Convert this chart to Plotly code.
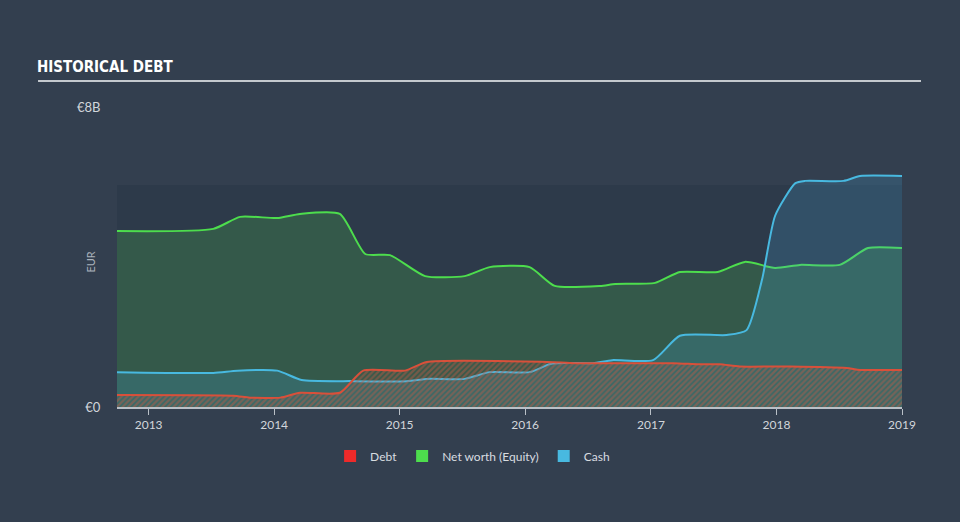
import plotly.graph_objects as go

# ---- data (values in billions of EUR) ----
equity_dates = ["2012-10-01", "2013-07-08", "2013-09-24", "2014-01-10", "2014-03-17", "2014-07-11",
                "2014-09-23", "2014-12-04", "2015-03-16", "2015-07-09", "2015-09-20", "2016-01-14",
                "2016-03-27", "2016-08-06", "2016-09-19", "2017-01-13", "2017-03-26", "2017-07-14",
                "2017-10-01", "2017-12-28", "2018-03-10", "2018-07-04", "2018-09-24", "2019-01-01"]
equity_vals = [4.69, 4.75, 5.07, 5.04, 5.15, 5.15,
               4.08, 4.05, 3.49, 3.49, 3.73, 3.73,
               3.23, 3.23, 3.28, 3.31, 3.60, 3.60,
               3.87, 3.71, 3.79, 3.79, 4.24, 4.24]

cash_dates = ["2012-10-01", "2013-07-08", "2013-09-16", "2014-01-10", "2014-03-22", "2014-08-19",
              "2015-01-22", "2015-03-21", "2015-07-09", "2015-09-20", "2016-01-14", "2016-03-19",
              "2016-07-16", "2016-09-10", "2017-01-07", "2017-03-26", "2017-08-09", "2017-10-06",
              "2017-11-20", "2017-12-28", "2018-02-25", "2018-03-25", "2018-07-15", "2018-09-01",
              "2019-01-01"]
cash_vals = [0.93, 0.91, 0.97, 0.97, 0.72, 0.69,
             0.69, 0.75, 0.75, 0.93, 0.93, 1.16,
             1.17, 1.25, 1.25, 1.90, 1.92, 2.05,
             3.40, 5.10, 5.97, 6.03, 6.03, 6.16,
             6.16]

debt_dates = ["2012-10-01", "2013-09-04", "2013-10-22", "2014-01-19", "2014-03-17", "2014-07-11",
              "2014-09-17", "2015-01-17", "2015-03-21", "2016-03-05", "2016-05-25", "2017-03-07",
              "2017-05-20", "2017-07-20", "2017-09-16", "2018-02-09", "2018-07-24", "2018-09-01",
              "2019-01-01"]
debt_vals = [0.32, 0.30, 0.25, 0.25, 0.38, 0.38,
             0.97, 0.97, 1.20, 1.20, 1.17, 1.17,
             1.14, 1.14, 1.08, 1.08, 1.04, 0.99,
             0.99]

y_tickvals = [0, 8]
y_ticktext = ["€0", "€8B"]
x_tickvals = ["2013-01-01", "2014-01-01", "2015-01-01", "2016-01-01", "2017-01-01", "2018-01-01", "2019-01-01"]
x_ticktext = ["2013", "2014", "2015", "2016", "2017", "2018", "2019"]

BG = "#333f4f"
GREEN = "#4ddd4d"
CYAN = "#48b9e0"
RED = "#d9503a"

fig = go.Figure()

fig.add_trace(go.Scatter(
    x=equity_dates, y=equity_vals, mode="lines", fill="tozeroy",
    line=dict(color=GREEN, width=2, shape="spline", smoothing=0.6),
    fillcolor="rgba(77,200,77,0.22)", showlegend=False, hoverinfo="skip"))
fig.add_trace(go.Scatter(
    x=cash_dates, y=cash_vals, mode="lines", fill="tozeroy",
    line=dict(color=CYAN, width=2, shape="spline", smoothing=0.6),
    fillcolor="rgba(72,170,220,0.2)", showlegend=False, hoverinfo="skip"))
fig.add_trace(go.Scatter(
    x=debt_dates, y=debt_vals, mode="lines", fill="tozeroy",
    line=dict(color=RED, width=2, shape="spline", smoothing=0.6),
    fillcolor="rgba(0,0,0,0)",
    fillpattern=dict(shape="/", fgcolor="rgba(195,90,70,0.9)", bgcolor="rgba(0,0,0,0)",
                     size=4, solidity=0.6),
    showlegend=False, hoverinfo="skip"))

# legend entries
for name, col in [("Debt", "#ee2a2a"), ("Net worth (Equity)", "#4ddd4d"), ("Cash", "#48b9e0")]:
    fig.add_trace(go.Scatter(x=[None], y=[None], mode="markers", name=name,
                             marker=dict(symbol="square", size=16, color=col)))

fig.update_layout(
    width=960, height=522,
    paper_bgcolor=BG, plot_bgcolor=BG,
    margin=dict(l=117, r=58, t=107, b=115),
    font=dict(family="Lato, Roboto, sans-serif", color="#d2d6db", size=12),
    title=dict(text="<b>HISTORICAL DEBT</b>", x=37 / 960, y=1 - 67 / 522,
               xref="container", yref="container", xanchor="left", yanchor="middle",
               font=dict(family="DejaVu Sans Condensed", size=15, color="#ffffff")),
    legend=dict(orientation="h", x=0.5 - 0.047, xanchor="center", y=-0.163, yanchor="middle",
                font=dict(size=12, color="#d8dce0"), bgcolor="rgba(0,0,0,0)",
                itemsizing="constant"),
    showlegend=True,
    shapes=[
        dict(type="rect", xref="paper", yref="y", x0=0, x1=1, y0=0, y1=5.92,
             fillcolor="#2d3a4a", line=dict(width=0), layer="below"),
        dict(type="line", xref="paper", yref="paper", x0=-0.1006, x1=1.0242, y0=1.0867, y1=1.0867,
             line=dict(color="#c4c9ce", width=2)),
    ],
    annotations=[
        dict(text="EUR", xref="paper", yref="paper", x=(82 - 117) / 785, y=0.483,
             textangle=-90, showarrow=False, font=dict(size=11, color="#aab2bb")),
    ],
)

fig.update_xaxes(
    type="date", range=["2012-10-01", "2019-01-01"],
    tickvals=x_tickvals, ticktext=x_ticktext,
    showgrid=False, zeroline=False,
    showline=True, linecolor="#b9c0c7", linewidth=1.5,
    ticks="outside", ticklen=6, tickcolor="#b9c0c7", tickwidth=1,
    tickfont=dict(size=12, color="#d2d6db"))
fig.update_yaxes(
    range=[0, 8], tickvals=y_tickvals, ticktext=y_ticktext,
    showgrid=False, zeroline=False, showline=False,
    ticks="outside", ticklen=13, tickcolor="rgba(0,0,0,0)",
    tickfont=dict(size=13, color="#d2d6db"))

fig.write_html("out.html")
